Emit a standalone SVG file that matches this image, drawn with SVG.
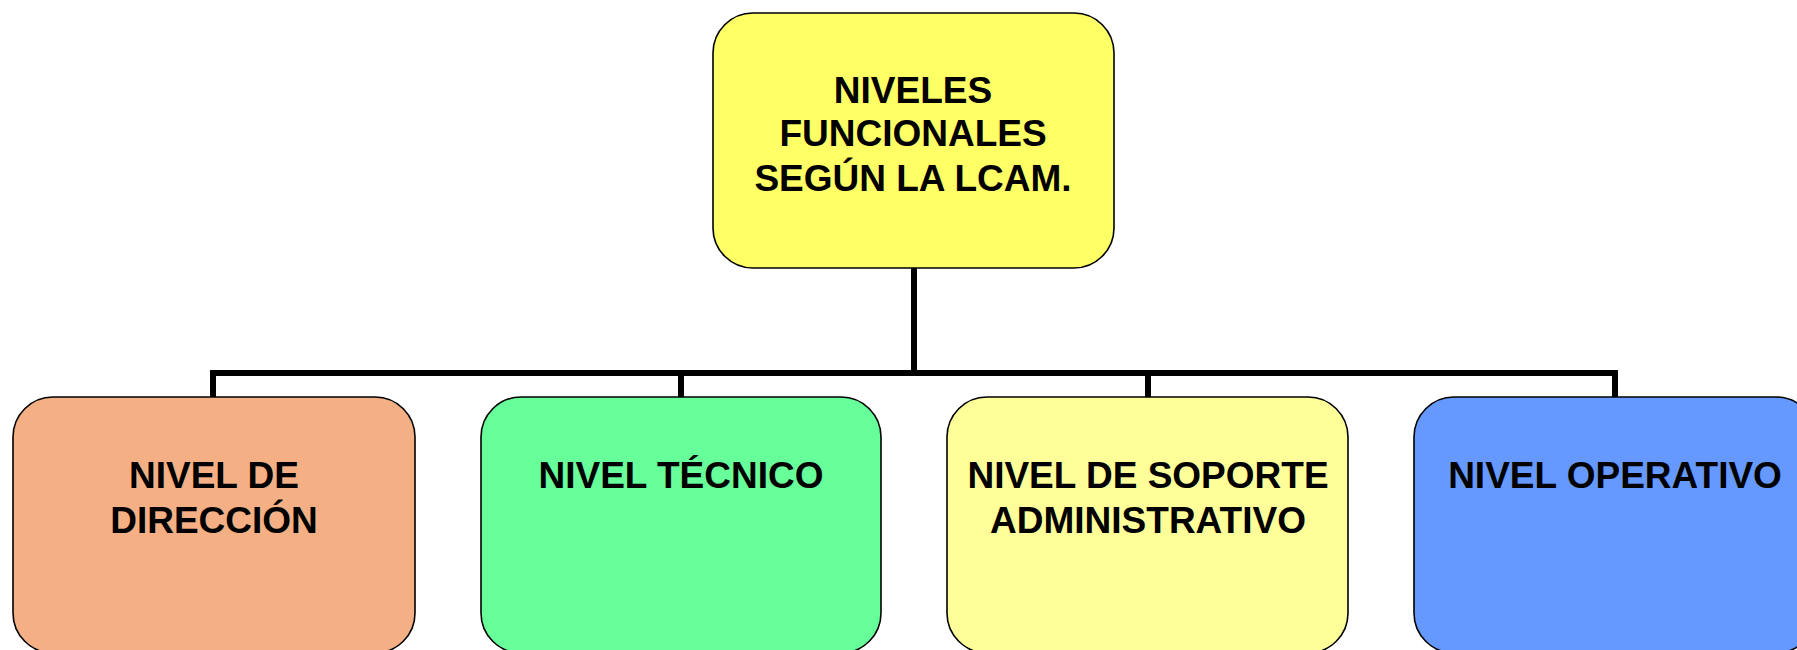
<svg xmlns="http://www.w3.org/2000/svg" width="1797" height="650" viewBox="0 0 1797 650">
<style>
.box{stroke:#000;stroke-width:1.6}
.t{font-family:"Liberation Sans",Arial,sans-serif;font-weight:bold;font-size:37px;fill:#000;text-anchor:middle}
.c{fill:none;stroke:#000;stroke-width:6;stroke-linecap:square}
</style>
<rect width="1797" height="650" fill="#fff"/>
<g id="connectors">
<path class="c" d="M914,268 V373"/>
<path class="c" d="M213,395 V373 H1615 V395"/>
<path class="c" d="M681,373 V395"/>
<path class="c" d="M1148,373 V395"/>
</g>
<g id="root">
<rect class="box" x="713" y="13" width="401" height="255" rx="40" ry="40" fill="#FFFF66"/>
<text class="t" x="913" y="103">NIVELES</text>
<text class="t" x="913" y="146">FUNCIONALES</text>
<text class="t" x="913" y="191">SEGÚN LA LCAM.</text>
</g>
<g id="direccion">
<rect class="box" x="13" y="397" width="402" height="256" rx="40" ry="40" fill="#F4B084"/>
<text class="t" x="214" y="488">NIVEL DE</text>
<text class="t" x="214" y="533">DIRECCIÓN</text>
</g>
<g id="tecnico">
<rect class="box" x="481" y="397" width="400" height="256" rx="40" ry="40" fill="#66FF99"/>
<text class="t" x="681" y="488">NIVEL TÉCNICO</text>
</g>
<g id="soporte">
<rect class="box" x="947" y="397" width="401" height="256" rx="40" ry="40" fill="#FFFF99"/>
<text class="t" x="1148" y="488">NIVEL DE SOPORTE</text>
<text class="t" x="1148" y="533">ADMINISTRATIVO</text>
</g>
<g id="operativo">
<rect class="box" x="1414" y="397" width="402" height="256" rx="40" ry="40" fill="#6699FF"/>
<text class="t" x="1615" y="488">NIVEL OPERATIVO</text>
</g>
</svg>
